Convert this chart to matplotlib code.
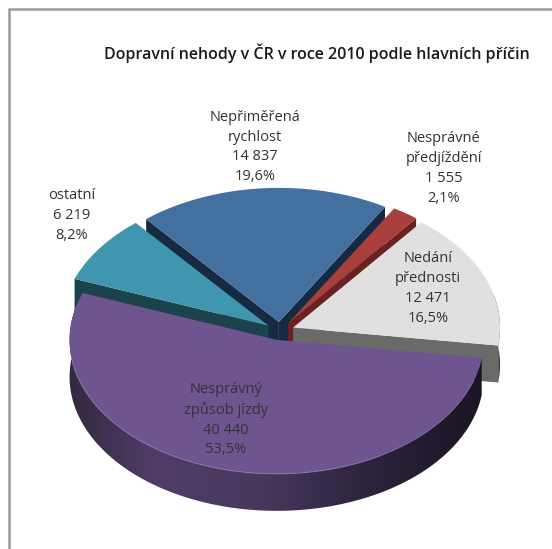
import numpy as np
import matplotlib
matplotlib.use("Agg")
import matplotlib.pyplot as plt
from matplotlib.colors import LinearSegmentedColormap
from matplotlib.patches import Polygon

# ---- data ----
title = "Dopravní nehody v ČR v roce 2010 podle hlavních příčin"
categories = ["Nesprávný\nzpůsob jízdy", "ostatní", "Nepřiměřená\nrychlost",
              "Nesprávné\npředjíždění", "Nedání\npřednosti"]
values = [40440, 6219, 14837, 1555, 12471]
value_labels = ["40 440", "6 219", "14 837", "1 555", "12 471"]
pct_labels = ["53,5%", "8,2%", "19,6%", "2,1%", "16,5%"]

# ---- style ----
top_colors = ["#6f5590", "#3f96ae", "#44709f", "#a83f3d", "#e0e0e0"]
cut_colors = ["#3a2c50", "#1c424c", "#162a42", "#6a2220", "#6a6a6a"]
rim_stops = [
    ["#33283f", "#4f3d68", "#47385e", "#2c233c", "#1a1524"],
    ["#1c424c"] * 5,
    ["#1f3a58"] * 5,
    ["#6a2220"] * 5,
    ["#3a3a3a"] * 5,
]
label_xy = [(226, 419.5), (72, 215.5), (255, 147), (444, 168.5), (428, 288.5)]
CX, CY, RX, RY, DEPTH, EXPLODE, START = 280, 331, 207, 134, 37, 0.068, -7.7

fig = plt.figure(figsize=(5.52, 5.49), dpi=100)
ax = fig.add_axes([0, 0, 1, 1])
ax.axis("off")

# chart frame
ax.plot([9, 9, 552], [549, 9, 9], color="#9a9a9a", lw=1.8, zorder=1, solid_joinstyle="miter")


def pt(th, c):
    t = np.radians(th)
    return np.column_stack([c[0] + RX * np.cos(t), c[1] - RY * np.sin(t)])


# clockwise angular spans from the values
total = sum(values)
spans = []
a = START
for v in values:
    spans.append((a, a - v / total * 360))
    a = spans[-1][1]

centers = []
for a0, a1 in spans:
    m = np.radians((a0 + a1) / 2)
    centers.append((CX + EXPLODE * RX * np.cos(m), CY - EXPLODE * RY * np.sin(m)))


def draw(i, z):
    a0, a1 = spans[i]
    c = centers[i]
    ths = np.linspace(a0, a1, 300)
    arc = pt(ths, c)
    # rim: horizontal gradient clipped to the extruded arc
    front = np.sin(np.radians(ths)) < 0.25
    if front.any():
        a_f = arc[front]
        outline = np.vstack([a_f, (a_f + [0, DEPTH])[::-1]])
        cmap = LinearSegmentedColormap.from_list("rim", rim_stops[i])
        grad = np.linspace(0, 1, 256).reshape(1, -1) ** 0.9
        im = ax.imshow(grad, cmap=cmap, vmin=0, vmax=1, aspect="auto", zorder=z,
                       extent=[outline[:, 0].min() - 1, outline[:, 0].max() + 1,
                               outline[:, 1].max() + 1, outline[:, 1].min() - 1],
                       interpolation="bilinear")
        im.set_clip_path(Polygon(outline, transform=ax.transData))
    # cut faces that look towards the viewer
    for th, n in ((a0, a0 + 90), (a1, a1 - 90)):
        if np.sin(np.radians(n)) < 0:
            e = pt(np.array([th]), c)[0]
            q = np.array([c, e, e + [0, DEPTH], np.array(c) + [0, DEPTH]])
            ax.fill(q[:, 0], q[:, 1], color=cut_colors[i], lw=0, zorder=z + 0.1)
    # top
    poly = np.vstack([[c], arc])
    ax.fill(poly[:, 0], poly[:, 1], color=top_colors[i], lw=0, zorder=z + 0.2)


# back to front
for z, i in enumerate([2, 3, 1, 4, 0]):
    draw(i, 2 + z)

# light highlight along the front edge of the big slice
hl = pt(np.linspace(-60, -170, 100), centers[0])
ax.plot(hl[:, 0], hl[:, 1], color="#8a76a6", lw=0.8, alpha=0.7, zorder=7)

ax.set_xlim(0, 552)
ax.set_ylim(549, 0)

for i, (x, y) in enumerate(label_xy):
    ax.text(x, y, f"{categories[i]}\n{value_labels[i]}\n{pct_labels[i]}", ha="center",
            va="center", fontsize=10.5, color="#333333", family="Open Sans",
            linespacing=1.43, zorder=10)

ax.text(317, 53, title, ha="center", va="center", fontsize=11.5, weight="semibold",
        color="#1a1a1a", family="Open Sans", zorder=10)

fig.savefig("out.png", dpi=100)
